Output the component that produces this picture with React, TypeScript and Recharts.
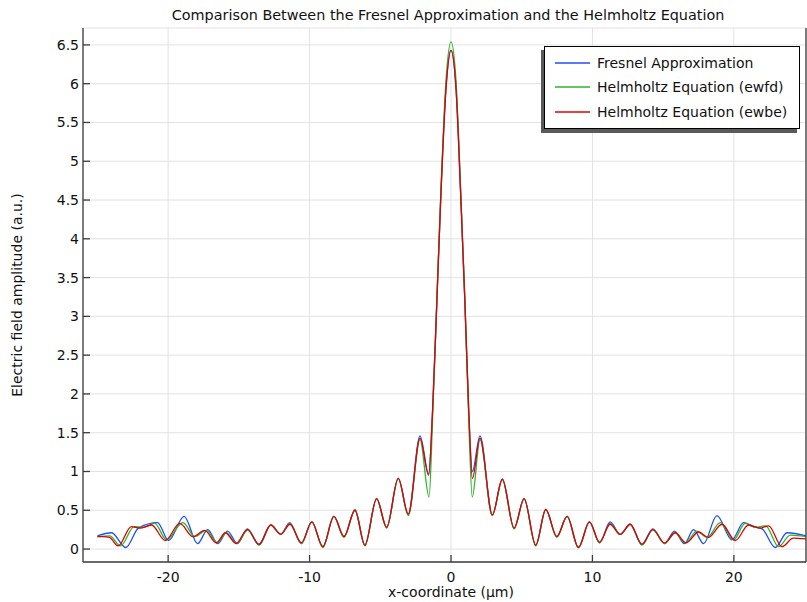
import { LineChart, Line, XAxis, YAxis, CartesianGrid, Legend } from "recharts"

const title = "Comparison Between the Fresnel Approximation and the Helmholtz Equation"
const xLabel = "x-coordinate (µm)"
const yLabel = "Electric field amplitude (a.u.)"

const xTicks = [-20, -10, 0, 10, 20]
const yTicks = [0, 0.5, 1, 1.5, 2, 2.5, 3, 3.5, 4, 4.5, 5, 5.5, 6, 6.5]
const xDomain = [-26.02, 25.1]
const yDomain = [-0.167, 6.718]

const seriesNames = ["Fresnel Approximation", "Helmholtz Equation (ewfd)", "Helmholtz Equation (ewbe)"]
const seriesColors = ["#1f4ff0", "#2db52d", "#e00000"]

// [x (µm), amplitude] at the extrema
const fresnel: [number, number][] = [
  [-25.0, 0.17], [-24.0, 0.21], [-23.0, 0.02], [-22.1, 0.27], [-20.75, 0.34], [-19.97, 0.11],
  [-18.87, 0.42], [-17.92, 0.07], [-17.2, 0.25], [-16.5, 0.07], [-15.8, 0.23], [-15.1, 0.07],
  [-14.4, 0.26], [-13.6, 0.06], [-12.75, 0.31], [-12.05, 0.19], [-11.4, 0.34], [-10.6, 0.07],
  [-9.84, 0.35], [-9.06, 0.03], [-8.28, 0.42], [-7.57, 0.16], [-6.79, 0.5], [-6.09, 0.05],
  [-5.26, 0.65], [-4.55, 0.28], [-3.73, 0.91], [-3.02, 0.45], [-2.19, 1.46], [-1.58, 0.97],
  [-1.3, 1.8], [-1.0, 3.2], [-0.73, 4.5], [-0.35, 5.95], [0, 6.43], [0.35, 5.95], [0.7, 4.5],
  [0.98, 3.2], [1.25, 1.8], [1.51, 1.0], [2.05, 1.46], [2.92, 0.44], [3.63, 0.9], [4.46, 0.27],
  [5.17, 0.65], [5.99, 0.05], [6.7, 0.51], [7.48, 0.16], [8.21, 0.42], [9.01, 0.02], [9.79, 0.35],
  [10.5, 0.08], [11.25, 0.35], [11.96, 0.19], [12.67, 0.32], [13.5, 0.06], [14.27, 0.26],
  [15.1, 0.07], [15.8, 0.23], [16.5, 0.07], [17.15, 0.25], [17.86, 0.07], [18.8, 0.43],
  [19.86, 0.12], [20.69, 0.34], [21.4, 0.29], [22.0, 0.26], [22.93, 0.02], [23.75, 0.21], [25.1, 0.17],
]

const ewfd: [number, number][] = [
  [-25.0, 0.16], [-24.13, 0.17], [-23.37, 0.04], [-22.4, 0.29], [-21.75, 0.28], [-20.95, 0.33],
  [-20.12, 0.12], [-18.95, 0.34], [-18.12, 0.16], [-17.3, 0.24], [-16.5, 0.08], [-15.9, 0.21],
  [-15.15, 0.07], [-14.35, 0.25], [-13.55, 0.05], [-12.74, 0.31], [-12.03, 0.19], [-11.39, 0.33],
  [-10.57, 0.07], [-9.84, 0.35], [-9.06, 0.02], [-8.28, 0.42], [-7.57, 0.15], [-6.79, 0.51],
  [-6.09, 0.04], [-5.26, 0.65], [-4.55, 0.27], [-3.73, 0.91], [-3.02, 0.43], [-2.19, 1.41],
  [-1.55, 0.67], [-1.3, 1.7], [-1.0, 3.2], [-0.73, 4.55], [-0.35, 6.05], [0, 6.54], [0.35, 6.05],
  [0.7, 4.55], [0.98, 3.2], [1.25, 1.7], [1.5, 0.67], [2.05, 1.41], [2.92, 0.43], [3.63, 0.9],
  [4.46, 0.26], [5.17, 0.65], [5.99, 0.04], [6.7, 0.51], [7.48, 0.15], [8.21, 0.42], [9.01, 0.02],
  [9.79, 0.35], [10.5, 0.08], [11.25, 0.33], [11.96, 0.19], [12.67, 0.32], [13.5, 0.05],
  [14.27, 0.25], [15.1, 0.07], [15.85, 0.21], [16.55, 0.08], [17.39, 0.23], [18.1, 0.15],
  [19.04, 0.34], [19.98, 0.12], [20.8, 0.33], [21.5, 0.28], [22.25, 0.3], [23.16, 0.03],
  [23.99, 0.18], [25.1, 0.16],
]

const ewbe: [number, number][] = [
  [-25.0, 0.16], [-24.6, 0.16], [-24.15, 0.15], [-23.54, 0.04], [-22.6, 0.29], [-22.0, 0.27],
  [-21.18, 0.31], [-20.2, 0.11], [-19.18, 0.33], [-18.24, 0.16], [-17.41, 0.24], [-16.6, 0.08],
  [-15.95, 0.21], [-15.2, 0.07], [-14.4, 0.25], [-13.57, 0.06], [-12.74, 0.31], [-12.03, 0.19],
  [-11.39, 0.32], [-10.57, 0.08], [-9.84, 0.35], [-9.06, 0.03], [-8.28, 0.42], [-7.57, 0.16],
  [-6.79, 0.5], [-6.09, 0.05], [-5.26, 0.65], [-4.55, 0.28], [-3.73, 0.91], [-3.02, 0.45],
  [-2.19, 1.43], [-1.58, 0.95], [-1.3, 1.8], [-1.0, 3.2], [-0.73, 4.5], [-0.35, 5.95], [0, 6.43],
  [0.35, 5.95], [0.7, 4.5], [0.98, 3.2], [1.25, 1.8], [1.51, 0.91], [2.05, 1.43], [2.92, 0.44],
  [3.63, 0.9], [4.46, 0.27], [5.17, 0.65], [5.99, 0.05], [6.7, 0.51], [7.48, 0.16], [8.21, 0.42],
  [9.01, 0.02], [9.79, 0.35], [10.5, 0.09], [11.25, 0.32], [11.96, 0.19], [12.67, 0.32],
  [13.5, 0.06], [14.27, 0.25], [15.1, 0.08], [15.85, 0.21], [16.63, 0.08], [17.5, 0.22],
  [18.2, 0.15], [19.16, 0.32], [20.1, 0.11], [21.04, 0.31], [21.87, 0.27], [22.46, 0.3],
  [23.4, 0.03], [24.2, 0.14], [25.1, 0.13],
]

const seriesData = [fresnel, ewfd, ewbe]

const toRows = (pts: [number, number][]) => pts.map(([x, y]) => ({ x, y }))

const frame = "#3c3c3c"
const tickText = { fill: "#111", fontSize: 14 }
const legendRowTops = [7, 31, 56]

function LegendBox() {
  return (
    <div
      style={{
        position: "relative",
        width: 254,
        height: 81,
        border: "1px solid #000",
        background: "#fff",
        boxShadow: "-3px 4px 0 0 #5a5a5a",
        fontSize: 14,
        color: "#111",
      }}
    >
      {seriesNames.map((name, i) => (
        <div key={name} style={{ position: "absolute", left: 10, top: legendRowTops[i], height: 18, display: "flex", alignItems: "center" }}>
          <svg width={35} height={4} style={{ display: "block" }}>
            <line x1={0} y1={2} x2={35} y2={2} stroke={seriesColors[i]} strokeWidth={1.3} />
          </svg>
          <span style={{ marginLeft: 7, whiteSpace: "nowrap" }}>{name}</span>
        </div>
      ))}
    </div>
  )
}

export default function App() {
  return (
    <div
      style={{
        position: "absolute",
        left: 0,
        top: 0,
        width: 807,
        height: 602,
        background: "#fff",
        fontFamily: '"DejaVu Sans", sans-serif',
      }}
    >
      <div style={{ position: "absolute", left: 86, top: 7, width: 724, textAlign: "center", fontSize: 14.4, lineHeight: "16px", color: "#111" }}>
        {title}
      </div>
      <LineChart width={807} height={602} margin={{ top: 28, right: 0, bottom: 0, left: 0 }}>
        <CartesianGrid stroke="#e2e2e2" strokeWidth={1} />
        <XAxis
          type="number"
          dataKey="x"
          domain={xDomain}
          allowDataOverflow
          ticks={xTicks}
          height={40}
          tickSize={-7}
          tickMargin={17}
          tick={tickText}
          stroke={frame}
          strokeWidth={1.3}
          label={{
            content: () => (
              <text x={451} y={597} textAnchor="middle" fontSize={14} fill="#111">
                {xLabel}
              </text>
            ),
          }}
        />
        <XAxis
          xAxisId="top"
          orientation="top"
          type="number"
          dataKey="x"
          domain={xDomain}
          allowDataOverflow
          ticks={xTicks}
          height={0}
          tickSize={-7}
          tick={false}
          stroke={frame}
          strokeWidth={1.3}
        />
        <YAxis
          type="number"
          domain={yDomain}
          allowDataOverflow
          ticks={yTicks}
          width={83}
          tickSize={-7}
          tickMargin={11}
          tick={tickText}
          stroke={frame}
          strokeWidth={1.3}
          label={{
            content: () => (
              <text x={17} y={295} transform="rotate(-90 17 295)" textAnchor="middle" dominantBaseline="central" fontSize={14} fill="#111">
                {yLabel}
              </text>
            ),
          }}
        />
        <YAxis
          yAxisId="right"
          orientation="right"
          type="number"
          domain={yDomain}
          allowDataOverflow
          ticks={yTicks}
          width={1}
          tickSize={-7}
          tick={false}
          stroke={frame}
          strokeWidth={1.3}
        />
        {seriesData.map((pts, i) => (
          <Line
            key={seriesNames[i]}
            data={toRows(pts)}
            dataKey="y"
            name={seriesNames[i]}
            type="monotone"
            stroke={seriesColors[i]}
            strokeWidth={1.3}
            dot={false}
            activeDot={false}
            isAnimationActive={false}
          />
        ))}
        <Legend
          layout="vertical"
          align="center"
          verticalAlign="middle"
          content={() => <LegendBox />}
          wrapperStyle={{ left: 544, top: 46, width: 256, height: 83 }}
        />
      </LineChart>
    </div>
  )
}
